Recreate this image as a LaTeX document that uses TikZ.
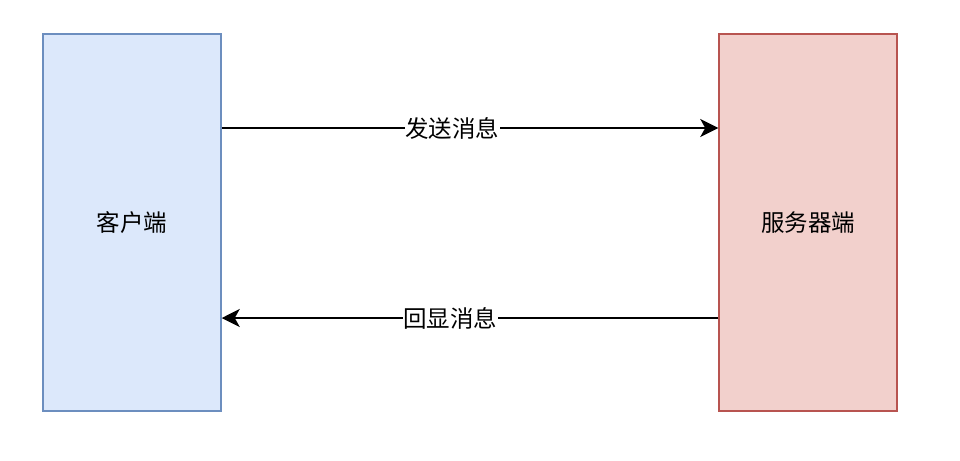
\documentclass[tikz,border=0pt]{standalone}
\usepackage{fontspec}
\newfontfamily\cjk{Noto Sans CJK SC}
\usepackage{tikz}
\newcommand{\boxwidth}{178pt}
\newcommand{\boxheight}{377pt}
\definecolor{clientFill}{RGB}{220,232,251}
\definecolor{clientLine}{RGB}{108,142,191}
\definecolor{serverFill}{RGB}{242,208,204}
\definecolor{serverLine}{RGB}{184,84,80}
\usetikzlibrary{arrows.meta,positioning}
\tikzset{
  >={Stealth[length=18pt,width=18pt,inset=5pt]},
  font=\cjk\fontsize{23.5}{28}\selectfont,
  side/.style={draw,shape=rectangle,line width=1.5pt,minimum width=\boxwidth,minimum height=\boxheight,inner sep=0},
  client/.style={side,fill=clientFill,draw=clientLine},
  server/.style={side,fill=serverFill,draw=serverLine},
  line/.style={draw,->,line width=1.5pt},
  tag/.style={fill=white,inner sep=0.5pt},
}
\begin{document}
\begin{tikzpicture}[x=1pt,y=-1pt]
      \useasboundingbox (0,0) rectangle (960,460);
      \node (c) [client] at (132,222.5) {客户端};
      \node (s) [server] at (808,222.5) {服务器端};
      \path [line] (c.east |- 0,128) -- (s.west |- 0,128) node[pos=0.464,tag]{发送消息};
      \path [line] (s.west |- 0,318) -- (c.east |- 0,318) node[pos=0.54,tag]{回显消息};
\end{tikzpicture}
\end{document}
